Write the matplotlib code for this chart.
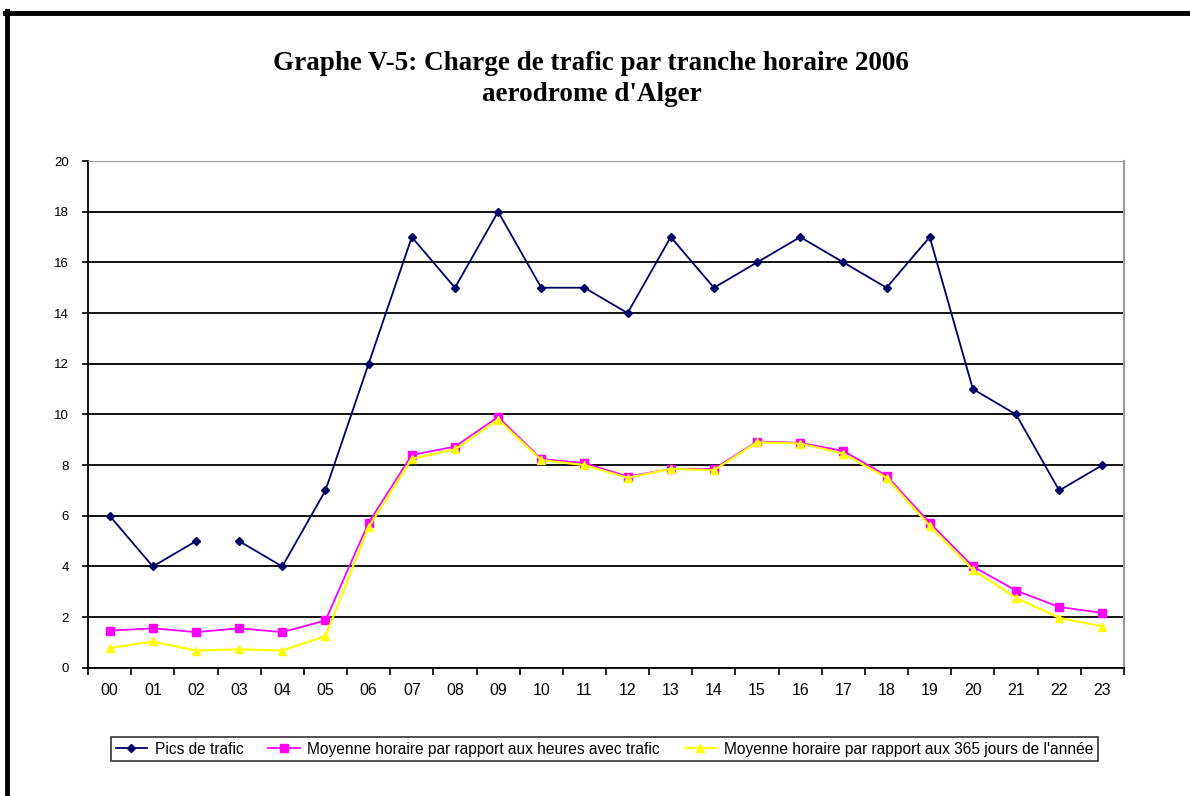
import matplotlib
matplotlib.use("Agg")
import matplotlib.pyplot as plt
from matplotlib.lines import Line2D
import numpy as np

# heures de la journee
heures = ["00", "01", "02", "03", "04", "05", "06", "07", "08", "09", "10", "11",
          "12", "13", "14", "15", "16", "17", "18", "19", "20", "21", "22", "23"]
pics = [6, 4, 5, 5, 4, 7, 12, 17, 15, 18, 15, 15,
        14, 17, 15, 16, 17, 16, 15, 17, 11, 10, 7, 8]
moy_heures_trafic = [1.47, 1.56, 1.41, 1.56, 1.41, 1.87, 5.73, 8.4, 8.73, 9.9, 8.24, 8.08,
                     7.55, 7.85, 7.85, 8.93, 8.88, 8.56, 7.58, 5.72, 4.0, 3.05, 2.4, 2.17]
moy_365_jours = [0.78, 1.04, 0.68, 0.73, 0.68, 1.26, 5.55, 8.25, 8.62, 9.8, 8.2, 8.0,
                 7.5, 7.85, 7.8, 8.9, 8.85, 8.45, 7.5, 5.6, 3.87, 2.76, 1.97, 1.63]
yticks = [0, 2, 4, 6, 8, 10, 12, 14, 16, 18, 20]

labels = ["Pics de trafic",
          "Moyenne horaire par rapport aux heures avec trafic",
          "Moyenne horaire par rapport aux 365 jours de l'année"]

fig = plt.figure(figsize=(11.9, 7.96), dpi=100)
ax = fig.add_axes([0.074, 0.161, 0.8705, 0.6367])

x = np.arange(len(heures))
bleu = "#000066"

# la serie des pics est interrompue entre 02 et 03
ax.plot(x[:3], pics[:3], color=bleu, lw=1.3, marker="D", ms=4)
ax.plot(x[3:], pics[3:], color=bleu, lw=1.3, marker="D", ms=4)
ax.plot(x, moy_heures_trafic, color="#ff00ff", lw=1.3, marker="s", ms=6)
ax.plot(x, moy_365_jours, color="#ffff00", lw=1.6, marker="^", ms=6)

ax.set_xlim(-0.5, len(heures) - 0.5)
ax.set_ylim(0, 20)
ax.set_yticks(yticks)
ax.set_yticklabels([str(v) for v in yticks], fontsize=9.5, family="Liberation Sans")
ax.yaxis.grid(True, color="black", lw=1.3)
ax.set_axisbelow(True)

ax.set_xticks(np.arange(-0.5, len(heures), 1.0))
ax.set_xticklabels([])
ax.set_xticks(x, minor=True)
ax.set_xticklabels(heures, minor=True, fontsize=11.5, family="Liberation Sans")
ax.tick_params(axis="x", which="minor", length=0, pad=11)
ax.tick_params(axis="x", which="major", length=5, width=1.2, direction="out")
ax.tick_params(axis="y", length=4, width=1.2, direction="out", pad=10)

ax.spines["left"].set_linewidth(1.3)
ax.spines["bottom"].set_linewidth(1.3)
ax.spines["top"].set_color("#999999")
ax.spines["right"].set_color("#999999")
ax.spines["right"].set_linewidth(1.5)

fig.text(0.497, 0.901, "Graphe V-5: Charge de trafic par tranche horaire 2006\naerodrome d'Alger",
         ha="center", va="center", fontsize=19.5, fontweight="bold",
         family="Liberation Serif", linespacing=1.3)

handles = [Line2D([], [], color=bleu, lw=1.3, marker="D", ms=4),
           Line2D([], [], color="#ff00ff", lw=1.3, marker="s", ms=6),
           Line2D([], [], color="#ffff00", lw=1.6, marker="^", ms=6)]
leg = fig.legend(handles, labels, ncol=3, loc="center", bbox_to_anchor=(0.508, 0.059),
                 prop={"family": "Liberation Sans", "size": 11.2}, frameon=True,
                 fancybox=False, handlelength=2.0, handletextpad=0.5,
                 columnspacing=1.6, borderpad=0.3)
leg.get_frame().set_edgecolor("black")
leg.get_frame().set_linewidth(1.2)

# cadre du graphique (bords haut et gauche)
fig.add_artist(Line2D([0.004, 1.0], [0.984, 0.984], color="black", lw=3.5,
                      transform=fig.transFigure))
fig.add_artist(Line2D([0.006, 0.006], [0.0, 0.986], color="black", lw=3.5,
                      transform=fig.transFigure))

fig.savefig("out.png", dpi=100)
